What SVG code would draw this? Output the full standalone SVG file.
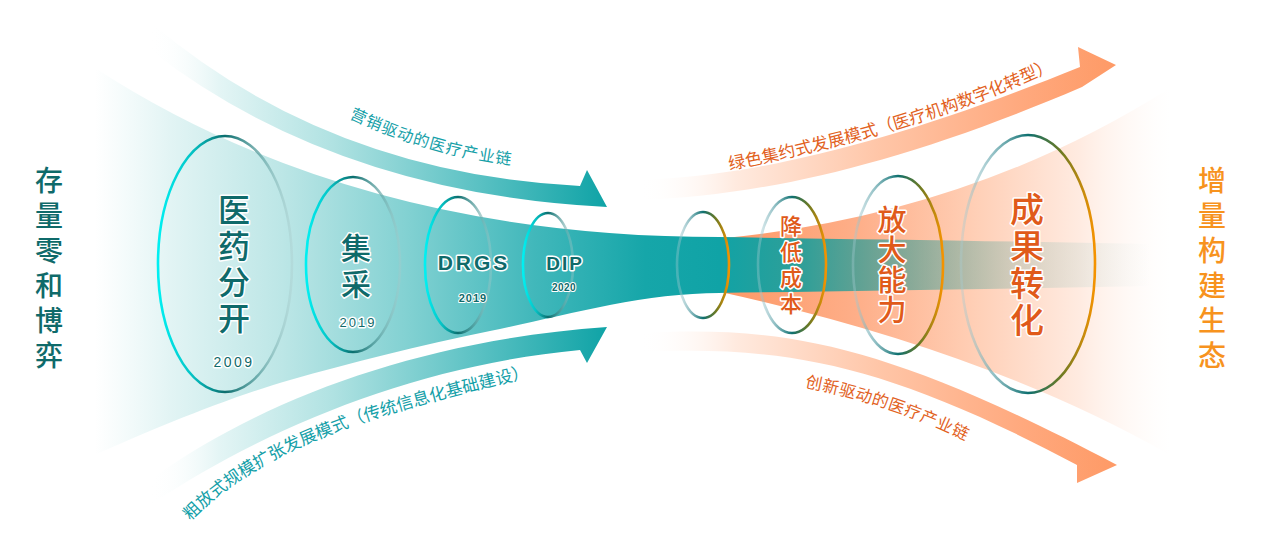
<svg xmlns="http://www.w3.org/2000/svg" width="1269" height="539" viewBox="0 0 1269 539">
<defs>
<style>
.cjk{font-family:"Noto Sans CJK SC","Noto Sans",sans-serif;}
.lat{font-family:"Liberation Sans",Arial,sans-serif;font-weight:bold;}
.num{font-family:"Liberation Sans",Arial,sans-serif;font-weight:normal;}
.halo{stroke:#fff;stroke-width:3;stroke-linejoin:round;paint-order:stroke;}
.halo2{stroke:#fff;stroke-width:2;stroke-linejoin:round;paint-order:stroke;}
.teal{fill:#0f6a6a;}
.org{fill:#e05a1a;}
.vert{writing-mode:vertical-rl;font-weight:500;}
.ring-l{fill:none;stroke:url(#ringL);stroke-width:2.6;}
.ring-r{fill:none;stroke:url(#ringR);stroke-width:2.6;}
.side{font-size:28px;letter-spacing:7px;}
</style>
<linearGradient id="wedge" gradientUnits="userSpaceOnUse" x1="95" y1="0" x2="720" y2="0">
<stop offset="0" stop-color="#e6f6f6" stop-opacity="0"/>
<stop offset="0.12" stop-color="#e2f4f4"/>
<stop offset="0.3" stop-color="#bce6e6"/>
<stop offset="0.5" stop-color="#82d1d2"/>
<stop offset="0.7" stop-color="#42b8bb"/>
<stop offset="0.88" stop-color="#16a6a9"/>
<stop offset="1" stop-color="#10a3a6"/>
</linearGradient>
<linearGradient id="band" gradientUnits="userSpaceOnUse" x1="718" y1="0" x2="1150" y2="0">
<stop offset="0" stop-color="#10a3a6" stop-opacity="1"/>
<stop offset="0.2" stop-color="#159e9c" stop-opacity="0.88"/>
<stop offset="0.45" stop-color="#2a9a94" stop-opacity="0.55"/>
<stop offset="0.7" stop-color="#4aa39c" stop-opacity="0.22"/>
<stop offset="1" stop-color="#7fbfb8" stop-opacity="0"/>
</linearGradient>
<linearGradient id="funnel" gradientUnits="userSpaceOnUse" x1="720" y1="0" x2="1170" y2="0">
<stop offset="0" stop-color="#fd9865"/>
<stop offset="0.3" stop-color="#feae88"/>
<stop offset="0.55" stop-color="#ffcdb3"/>
<stop offset="0.8" stop-color="#ffebe1"/>
<stop offset="1" stop-color="#fff8f4" stop-opacity="0"/>
</linearGradient>
<linearGradient id="arrT1" gradientUnits="userSpaceOnUse" x1="150" y1="0" x2="607" y2="0">
<stop offset="0" stop-color="#ffffff" stop-opacity="0"/>
<stop offset="0.15" stop-color="#e4f5f5"/>
<stop offset="0.4" stop-color="#b0e2e2"/>
<stop offset="0.7" stop-color="#5fc3c5"/>
<stop offset="1" stop-color="#0fa3a6"/>
</linearGradient>
<linearGradient id="arrO" gradientUnits="userSpaceOnUse" x1="640" y1="0" x2="1116" y2="0">
<stop offset="0" stop-color="#ffffff" stop-opacity="0"/>
<stop offset="0.2" stop-color="#ffeadf"/>
<stop offset="0.5" stop-color="#ffc6a8"/>
<stop offset="0.8" stop-color="#ffa97e"/>
<stop offset="1" stop-color="#fe9a66"/>
</linearGradient>
<linearGradient id="ringL" x1="0" y1="0" x2="1" y2="0">
<stop offset="0" stop-color="#00f0f2"/>
<stop offset="0.25" stop-color="#05c4c6"/>
<stop offset="0.5" stop-color="#0b6e6e"/>
<stop offset="0.75" stop-color="#4f9898" stop-opacity="0.7"/>
<stop offset="1" stop-color="#a9c9c9" stop-opacity="0.35"/>
</linearGradient>
<linearGradient id="ringR" x1="0" y1="0" x2="1" y2="0">
<stop offset="0" stop-color="#a8cdd4" stop-opacity="0.35"/>
<stop offset="0.25" stop-color="#6aa9b0" stop-opacity="0.75"/>
<stop offset="0.5" stop-color="#0e7070"/>
<stop offset="0.75" stop-color="#6e7a22"/>
<stop offset="1" stop-color="#f59300"/>
</linearGradient>
<path id="tp1" d="M349,118 C395,140 450,158 512,165 L560,170"/>
<path id="tp2" d="M190,521 C270,441 383,413 533,376 L600,362"/>
<path id="tp3" d="M730,170 C830,150 950,120 1054,69 L1100,45"/>
<path id="tp4" d="M805,387 C850,396 910,413 968,442 L1010,464"/>
</defs>

<rect width="1269" height="539" fill="#ffffff"/>

<g id="flows">
<path id="orange-funnel" d="M725,238 Q971,214 1170,88 L1170,455 Q988,351 725,293 Z" fill="url(#funnel)"/>
<path id="teal-wedge" d="M95,68 Q355,237 720,237 L720,293 C640,293 560,317 490,331 S350,363 290,380 C230,397 150,430 95,455 Z" fill="url(#wedge)"/>
<path id="teal-band" d="M718,237 C850,239 1000,241 1150,244 L1150,286 C1000,289 850,291 718,293 Z" fill="url(#band)"/>
</g>

<g id="connectors">
<path id="arrow-teal-upper" d="M150,22 Q328,173 580,186 L587,170 L607,207 Q335,193 150,50 Z" fill="url(#arrT1)"/>
<path id="arrow-teal-lower" d="M150,480 C260,400 420,340 607,327 L587,363 L580,350 C420,365 270,425 150,505 Z" fill="url(#arrT1)"/>
<path id="arrow-orange-upper" d="M640,180 C760,176 900,140 1080,67 L1078,47 L1116,65 L1082,87 C900,165 760,196 640,200 Z" fill="url(#arrO)"/>
<path id="arrow-orange-lower" d="M640,333 C780,326 880,340 1117,465 L1077,483 L1077,465 C880,360 780,346 640,352 Z" fill="url(#arrO)"/>
<text class="cjk halo2" font-size="16" fill="#14a0a8"><textPath href="#tp1" letter-spacing="1">营销驱动的医疗产业链</textPath></text>
<text class="cjk halo2" font-size="17" fill="#14a0a8"><textPath href="#tp2">粗放式规模扩张发展模式（传统信息化基础建设）</textPath></text>
<text class="cjk halo2" font-size="17" fill="#e2621e"><textPath href="#tp3">绿色集约式发展模式（医疗机构数字化转型）</textPath></text>
<text class="cjk halo2" font-size="16.5" fill="#e2621e"><textPath href="#tp4" letter-spacing="0.5">创新驱动的医疗产业链</textPath></text>
</g>

<g id="label-left">
<text class="cjk side vert teal" x="49" y="166">存量零和博弈</text>
</g>
<g id="label-right">
<text class="cjk side vert" x="1212" y="166" fill="#f7931e">增量构建生态</text>
</g>

<g id="node-yiyao">
<ellipse class="ring-l" cx="225" cy="264" rx="67" ry="128"/>
<text class="cjk vert halo teal" x="234" y="194" font-size="32" letter-spacing="4">医药分开</text>
<text class="num halo teal" x="234" y="367" font-size="14" letter-spacing="2.5" text-anchor="middle">2009</text>
</g>

<g id="node-jicai">
<ellipse class="ring-l" cx="353" cy="264.5" rx="47" ry="87.5"/>
<text class="cjk vert halo teal" x="356" y="233" font-size="30" letter-spacing="6">集采</text>
<text class="num halo teal" x="358" y="327" font-size="13" letter-spacing="2" text-anchor="middle">2019</text>
</g>

<g id="node-drgs">
<ellipse class="ring-l" cx="458" cy="265" rx="33" ry="68"/>
<text class="lat halo teal" x="474" y="270" font-size="21" letter-spacing="3" text-anchor="middle">DRGS</text>
<text class="lat halo2 teal" x="473" y="302" font-size="11" letter-spacing="1" text-anchor="middle">2019</text>
</g>

<g id="node-dip">
<ellipse class="ring-l" cx="548" cy="265" rx="25" ry="52"/>
<text class="lat halo teal" x="565" y="270" font-size="19" letter-spacing="2" text-anchor="middle">DIP</text>
<text class="lat halo2 teal" x="564" y="291" font-size="10" letter-spacing="0.5" text-anchor="middle">2020</text>
</g>

<g id="node-pivot">
<ellipse class="ring-r" cx="703" cy="265" rx="26" ry="53"/>
</g>

<g id="node-jiangdi">
<ellipse class="ring-r" cx="792" cy="265" rx="34" ry="68"/>
<text class="cjk vert halo org" x="791" y="215" font-size="22" letter-spacing="4">降低成本</text>
</g>

<g id="node-fangda">
<ellipse class="ring-r" cx="898" cy="265" rx="45" ry="89"/>
<text class="cjk vert halo org" x="892" y="205.5" font-size="29" letter-spacing="1">放大能力</text>
</g>

<g id="node-chengguo">
<ellipse class="ring-r" cx="1028" cy="264" rx="67" ry="129"/>
<text class="cjk vert halo org" x="1027" y="192" font-size="34" letter-spacing="3">成果转化</text>
</g>
</svg>
